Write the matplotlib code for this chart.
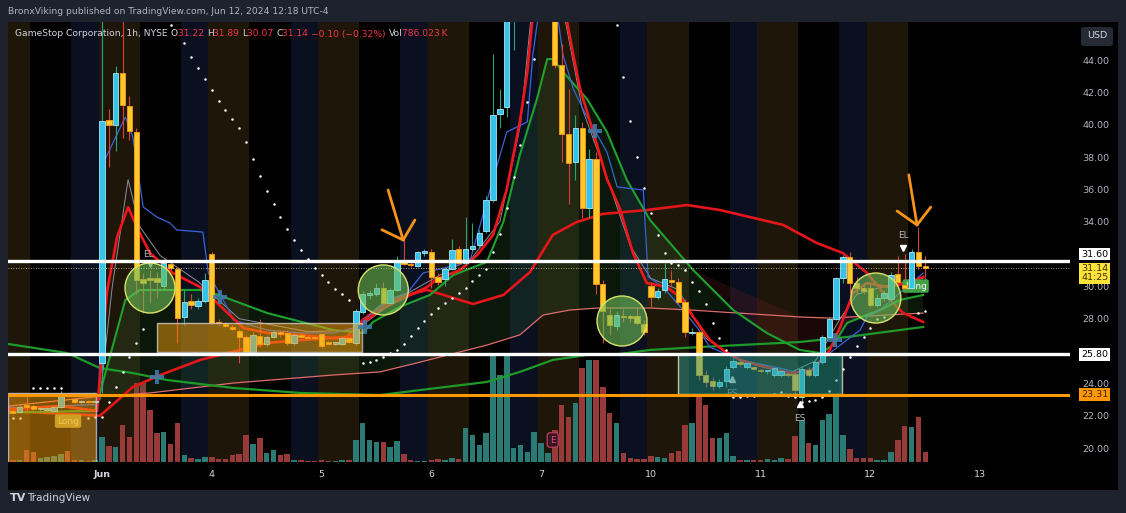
import numpy as np
import matplotlib.pyplot as plt
from matplotlib.patches import Rectangle, Ellipse, FancyBboxPatch

# 1h bars, 16 per day (04:00-20:00). bar 0 = Jun 3 04:00, bar -13 = May 31 07:00
first_bar = -13
opens = [22.25, 22.25, 22.60, 22.60, 22.40, 22.38, 22.30, 22.55, 23.30, 23.05, 22.85, 22.90, 22.85,
         25.26, 40.30, 40.00, 43.20, 41.15, 39.55, 30.45, 30.50, 30.50, 30.00, 31.40, 31.10, 28.10, 29.10, 28.80, 29.10,
         32.00, 27.80, 27.70, 27.50, 27.25, 26.90, 25.95, 26.95, 26.45, 26.90, 27.15, 27.10, 26.50, 26.95, 26.90, 26.80,
         27.05, 26.50, 26.45, 26.45, 26.80, 26.50, 28.40, 29.45, 29.55, 29.90, 29.00, 29.80, 31.45, 31.40, 31.25, 32.05,
         32.10, 30.60, 30.45, 31.10, 32.30, 31.45, 32.30, 32.55, 33.40, 35.35, 40.65, 41.10, 48.00, 50.00, 51.00, 49.00,
         47.00, 47.00, 47.50, 43.70, 39.40, 37.70, 39.80, 34.85, 37.90, 30.15, 28.20, 27.55, 28.15, 28.10, 28.15, 27.70,
         30.00, 29.35, 29.80, 30.40, 30.30, 29.05, 27.10, 27.20, 24.50, 24.15, 23.85, 24.15, 25.00, 25.30, 25.00, 25.00,
         24.85, 24.75, 24.50, 24.50, 24.60, 24.60, 23.15, 24.85, 24.50, 25.30, 26.90, 28.00, 30.50, 31.80, 30.20, 29.90,
         29.90, 28.85, 29.30, 29.20, 30.75, 30.10, 29.90, 32.10, 31.22]
highs = [22.40, 22.70, 23.40, 22.70, 22.50, 22.55, 22.60, 23.50, 23.40, 23.15, 22.95, 23.00, 22.95,
         48.00, 41.00, 43.60, 48.00, 41.80, 39.80, 30.80, 31.00, 30.90, 31.70, 31.50, 31.20, 29.80, 29.50, 29.30, 30.80,
         32.10, 28.00, 27.80, 27.60, 27.35, 27.00, 27.20, 28.00, 27.00, 27.30, 27.30, 27.30, 27.10, 27.10, 26.95, 26.90,
         27.10, 26.60, 26.55, 26.90, 26.85, 28.60, 29.70, 29.80, 30.20, 30.30, 29.90, 31.85, 32.90, 31.50, 32.20, 32.30,
         32.30, 30.80, 31.20, 32.90, 32.50, 34.30, 33.90, 33.50, 35.60, 44.40, 42.20, 50.00, 55.00, 55.00, 55.00, 54.00,
         52.00, 50.00, 48.00, 45.00, 42.20, 40.60, 40.17, 38.50, 38.30, 30.40, 28.70, 28.50, 28.60, 28.30, 28.70, 27.90,
         30.30, 29.90, 31.45, 31.00, 30.50, 29.20, 27.40, 27.30, 24.80, 24.40, 24.30, 25.10, 25.60, 25.50, 25.30, 25.10,
         24.90, 24.85, 25.00, 24.80, 24.70, 24.70, 25.00, 25.00, 25.50, 27.00, 28.10, 30.60, 31.95, 32.10, 30.60, 30.20,
         30.20, 29.50, 29.80, 30.90, 31.90, 32.00, 32.30, 33.70, 31.89]
lows = [22.10, 22.20, 22.20, 22.35, 22.30, 22.30, 22.25, 22.50, 23.15, 22.80, 22.75, 22.80, 22.80,
        23.40, 37.40, 38.40, 39.20, 39.05, 29.50, 28.35, 29.00, 29.30, 29.80, 31.00, 26.50, 27.60, 28.60, 28.60, 29.00,
        27.70, 27.60, 27.50, 27.30, 25.25, 25.90, 25.90, 26.25, 26.30, 26.80, 26.90, 26.40, 26.40, 26.85, 26.75, 26.70,
        26.20, 26.40, 26.40, 26.40, 26.50, 26.40, 28.30, 29.20, 29.40, 28.90, 28.90, 29.70, 31.30, 31.20, 31.20, 31.90,
        29.90, 30.10, 30.00, 31.00, 31.30, 31.30, 32.20, 32.40, 33.30, 35.20, 39.80, 40.50, 44.60, 47.00, 47.00, 47.50,
        46.80, 46.50, 43.50, 37.70, 35.10, 36.60, 34.20, 34.20, 29.50, 26.50, 27.00, 27.30, 27.80, 27.80, 27.60, 27.00,
        28.70, 29.20, 29.60, 30.00, 28.90, 26.90, 27.00, 24.20, 23.80, 23.60, 23.70, 23.80, 24.90, 25.10, 24.90, 24.80,
        24.70, 24.60, 24.40, 24.40, 24.40, 23.30, 22.90, 24.40, 24.40, 25.20, 26.80, 27.90, 30.20, 29.60, 29.50, 29.50,
        28.70, 28.70, 29.10, 29.10, 30.10, 29.70, 29.80, 31.10, 30.07]
closes = [22.20, 22.55, 22.55, 22.40, 22.42, 22.42, 22.55, 23.30, 23.20, 22.85, 22.90, 22.85, 22.90,
          40.20, 40.00, 43.20, 41.20, 39.60, 30.40, 30.20, 30.40, 30.30, 31.45, 31.15, 28.05, 29.05, 28.85, 29.10, 30.40,
          27.75, 27.72, 27.55, 27.35, 26.90, 25.95, 27.00, 26.45, 26.90, 27.20, 27.05, 26.50, 27.00, 26.90, 26.80, 26.78,
          26.30, 26.45, 26.50, 26.80, 26.55, 28.50, 29.50, 29.60, 29.90, 29.00, 29.80, 31.50, 31.40, 31.30, 32.10, 32.20,
          30.60, 30.30, 31.05, 32.25, 31.45, 32.30, 32.50, 33.30, 35.35, 40.60, 40.95, 48.00, 52.00, 51.00, 53.00, 50.00,
          48.50, 47.80, 43.70, 39.40, 37.60, 39.80, 34.85, 37.90, 30.15, 28.50, 27.60, 28.20, 28.10, 28.05, 27.75, 27.20,
          29.35, 29.70, 30.45, 30.30, 29.05, 27.20, 27.20, 24.50, 24.10, 23.85, 24.10, 24.90, 25.40, 25.20, 25.25, 24.90,
          24.75, 24.78, 24.95, 24.75, 24.50, 23.60, 24.90, 24.50, 25.30, 26.90, 28.00, 30.50, 31.80, 30.20, 29.90, 29.70,
          28.85, 29.30, 29.60, 30.70, 30.25, 29.90, 32.10, 31.25, 31.14]
volume = [2, 2, 12, 10, 4, 5, 6, 8, 11, 2, 2, 1, 2,
          25, 16, 15, 37, 25, 79, 79, 52, 29, 30, 18, 39, 7, 4, 3, 5,
          5, 3, 3, 7, 8, 27, 18, 24, 9, 12, 7, 8, 2, 2, 1, 1,
          2, 1, 1, 2, 2, 22, 39, 22, 20, 20, 15, 21, 8, 2, 1, 1,
          2, 3, 2, 4, 3, 34, 27, 17, 29, 107, 87, 107, 14, 17, 10, 30,
          19, 9, 32, 57, 45, 59, 94, 102, 102, 75, 49, 39, 9, 4, 3, 3,
          6, 5, 4, 9, 11, 37, 39, 67, 57, 24, 24, 29, 6, 2, 2, 2,
          2, 3, 2, 4, 3, 26, 42, 19, 17, 42, 48, 68, 27, 13, 4, 4,
          4, 2, 2, 10, 22, 36, 35, 45, 10]

day_ticks = [0, 16, 32, 48, 64, 80, 96, 112, 128]
day_labels = ["Jun", "4", "5", "6", "7", "10", "11", "12", "13"]
price_ticks = [20, 22, 24, 26, 28, 30, 34, 36, 38, 40, 42, 44]   # 32.00 sits under the 31.60 tag

# moving averages (bar, price)
red_fast_x = [-13.7, -6, -0.7, 0.7, 2.2, 3.8, 5.5, 7, 10.3, 14.3, 16.8, 20.6, 24.1, 28.9, 33.7, 36.2, 38, 40.5,
              43.4, 47.4, 48.8, 52.2, 54.7, 57, 59, 60.9, 62, 62.7, 64.5, 66.5, 67.8, 68.7, 69.7, 71.6, 73.6,
              75.5, 77.4, 79.4, 82.3, 84.3, 86.2, 88.6, 90.5, 93, 96.9, 100.3, 103.6, 106.1, 107.6, 109.5,
              111.5, 114.4, 117.3, 119.7]
red_fast_y = [22.4, 22.6, 22.3, 29.6, 33.05, 34.9, 33.3, 32.06, 30.83, 29.96, 28.97, 27.43, 27.12, 27.0, 26.8,
              26.8, 27.74, 28.54, 29.16, 29.96, 30.46, 31.0, 31.94, 33.18, 36.0, 40.17, 43.26, 46.35, 50.0, 48.5,
              46.35, 44.3, 42.2, 39.55, 36.64, 34.8, 32.06, 30.21, 29.96, 29.34, 28.11, 26.68, 26.07, 25.45, 25.0,
              24.64, 24.83, 26.07, 27.49, 29.59, 30.21, 29.96, 30.21, 30.58]
red_slow_x = [-13.7, -0.3, 4.5, 8.5, 14.3, 24.1, 28.9, 35.7, 38, 40.5, 43.4, 47.4, 54.1, 58.5, 62.4, 65.7, 69.2,
              73, 79.4, 85.3, 90.1, 99.3, 104.2, 108, 111.5, 114.4, 116.8, 119.7]
red_slow_y = [22.3, 22.0, 23.78, 24.52, 25.45, 26.5, 26.68, 26.87, 27.92, 28.73, 29.34, 29.78, 28.91, 29.47,
              30.89, 33.18, 33.98, 34.48, 34.72, 35.03, 34.72, 33.8, 32.68, 32.06, 30.83, 29.34, 28.35, 27.8]
green_mid_x = [-13.7, -1, -0.3, 3.4, 5.5, 14.3, 16.2, 24.1, 33.7, 38, 39.5, 43.4, 47.8, 51.2, 56.1, 58.5, 60.9,
               63.4, 64.9, 65.7, 67.2, 70.7, 73.6, 76.5, 79.9, 86.2, 92, 96.9, 101.7, 104.7, 106.6, 108.6,
               111.5, 113.4, 116.3, 119.7]
green_mid_y = [22.2, 22.3, 23.4, 29.16, 29.78, 29.78, 29.59, 28.35, 27.3, 27.12, 27.8, 28.73, 29.47, 30.7,
               31.51, 33.98, 38.12, 41.59, 44.06, 44.06, 43.26, 41.59, 39.55, 36.58, 34.1, 31.0, 28.54, 27.12,
               26.07, 25.88, 26.37, 27.74, 28.23, 28.54, 29.16, 29.47]
green_slow_x = [-13.7, -5.1, -0.3, 4.5, 9.5, 19.1, 28.9, 40.5, 46.4, 56.1, 60.9, 65.7, 70.7, 75.5, 79.9, 87.2,
                101.7, 108.6, 119.7]
green_slow_y = [26.44, 25.88, 24.95, 24.64, 24.21, 23.72, 23.41, 23.28, 23.59, 24.09, 24.71, 25.45, 25.76,
                25.82, 26.07, 26.25, 26.56, 26.87, 27.49]
pink_x = [-13.7, -0.3, 7, 19.1, 33.7, 40.5, 46.4, 56.1, 60.9, 64.3, 68.2, 72.2, 79.9, 85.7, 101.7, 106.1, 119.7]
pink_y = [22.6, 23.2, 23.41, 24.02, 24.52, 24.71, 25.32, 26.37, 27.0, 28.23, 28.54, 28.66, 28.66, 28.54,
          28.11, 28.04, 28.35]
blue_x = [-13.7, -0.5, 0.4, 3.4, 4.5, 6, 8, 9.9, 10.9, 14.7, 15.5, 18.7, 19.1, 24.1, 28.9, 33.7, 37.2, 41.5,
          44.5, 46.8, 49.3, 53.6, 57, 59, 62, 62.8, 64, 66, 67.2, 68.7, 70.1, 73.6, 75.1, 78.9, 79.6, 81.8,
          84.3, 86.7, 88.6, 93, 98.8, 101.7, 102.8, 106.1, 107.6, 110.5, 111.5, 113.4, 119.7]
blue_y = [22.5, 22.7, 37.82, 40.47, 39.24, 34.91, 34.29, 33.92, 33.49, 33.36, 30.83, 28.35, 27.92, 27.3, 27.12,
          27.12, 27.49, 29.16, 29.59, 30.83, 31.08, 31.51, 36.64, 39.55, 40.17, 44.31, 48.0, 48.0, 44.31, 42.21,
          40.97, 38.31, 36.15, 35.96, 30.58, 29.96, 28.73, 27.49, 26.25, 25.45, 24.95, 24.64, 24.64, 25.88,
          26.37, 27.3, 28.11, 28.54, 30.83]
gray_x = [-0.3, 1.5, 3.8, 5.5, 8.5, 14, 20, 30, 37, 43, 48, 54, 58, 61, 62.5, 67.5, 70, 73, 77, 80, 84, 88, 93,
          100, 104, 107.6, 110, 114, 119.7]
gray_y = [23.0, 30.0, 36.6, 33.7, 31.9, 30.3, 28.0, 27.2, 27.3, 29.2, 30.4, 31.8, 34.0, 40.0, 46.5, 46.5, 41.0,
          37.5, 32.5, 30.5, 29.8, 26.8, 25.4, 24.6, 25.4, 28.0, 29.5, 30.0, 30.5]

# parabolic SAR dots
sar_x = [-13, -12, -10, -9, -8, -7, -6, -2, -1, 0, 1, 2, 3, 4, 5, 6,
         10, 12, 13, 14, 15, 16, 17, 18, 19, 20, 21, 22, 23, 24, 25, 26, 27, 28, 29, 30, 31, 32, 33, 34, 35, 36,
         38, 39, 40, 41, 42, 43, 44, 45, 46, 47, 48, 49, 50, 51, 52, 53, 54, 55, 56, 57, 58, 59, 60, 61, 62, 63,
         75, 76, 77, 78, 79, 80, 81, 82, 83, 84, 85, 86, 87, 88, 89, 90, 91,
         92, 93, 94, 95, 96, 97, 98, 99, 100, 101, 102, 103, 104, 105, 106, 107, 108, 109, 110, 111, 112, 113, 114,
         119, 120]
sar_y = [21.86, 21.86, 23.72, 23.72, 23.72, 23.72, 23.72, 21.86, 21.92, 21.92, 22.85, 23.78, 24.71, 25.63, 26.5, 27.36,
         46.16, 45.05, 44.19, 43.5, 42.82, 42.14, 41.46, 40.91, 40.35, 39.8, 38.93, 37.88, 36.83, 35.9, 35.1,
         34.29, 33.55, 32.87, 32.25, 31.69, 31.14, 30.7, 30.27, 29.84, 29.53, 29.16,
         25.26, 25.32, 25.45, 25.63, 25.88, 26.07, 26.44, 26.93, 27.43, 27.86, 28.29, 28.66, 28.97, 29.28, 29.59,
         29.9, 30.33, 30.7, 31.08, 32.13, 33.24, 34.85, 36.76, 38.74, 41.4, 44.06,
         46.16, 42.95, 40.23, 38.0, 36.08, 34.54, 33.18, 32.06, 31.45, 31.3, 31.01, 30.27, 29.71, 28.91, 27.74,
         26.81, 26.07,
         23.16, 23.16, 23.2, 23.22, 23.3, 23.3, 23.35, 23.47, 23.2, 23.16, 22.85, 22.91, 22.97, 23.16, 23.53, 24.2,
         24.89, 25.63, 26.31, 26.87, 27.43, 27.98, 28.1,
         28.35, 28.48]

# drawings on the chart
white_levels = [31.60, 25.80]
orange_level = 23.31
last_price = 31.14
boxes = [(-13.7, -0.9, 19.0, 23.41, '#f59e0b'), (8.0, 37.9, 25.94, 27.74, '#f59e0b'),
         (84.0, 107.9, 23.35, 25.82, '#2a9d8f')]
circle_x = [7.0, 41.0, 75.8, 112.8]
circle_y = [29.9, 29.78, 27.86, 29.28]
cross_x = [8.0, 17.2, 38.3, 71.9, 106.8]
cross_y = [24.4, 29.34, 27.49, 39.6, 26.68]
arrow_tips = [(43.9, 32.87), (118.8, 33.8)]
arrow_tails = [(41.7, 35.96), (117.6, 36.9)]
arrow_wings = [[(40.8, 33.5), (45.6, 34.1)], [(115.9, 34.66), (120.8, 34.9)]]

W, H = 1126, 513


def frect(l, t, r, b):
    return [l / W, 1 - b / H, (r - l) / W, (b - t) / H]


fig = plt.figure(figsize=(W / 100, H / 100), dpi=100, facecolor='#1e222d')
fig.patches.append(Rectangle((8 / W, 1 - 490 / H), 1110 / W, 468 / H, transform=fig.transFigure,
                             facecolor='black', edgecolor='none', zorder=-10))

ax_vol = fig.add_axes(frect(8, 22, 1070, 462), zorder=0)
ax = fig.add_axes(frect(8, 22, 1070, 462), zorder=1, sharex=ax_vol)
ax_vol.set_facecolor('black')
ax.set_facecolor('none')
ax.set_xlim(-13.7, 141.1)
ax.set_ylim(19.14, 46.35)
ax_vol.set_ylim(0, 440)
for a in (ax, ax_vol):
    for s in a.spines.values():
        s.set_visible(False)
ax_vol.tick_params(left=False, labelleft=False, bottom=False, labelbottom=False)

x = np.arange(first_bar, first_bar + len(opens))
o = np.array(opens); h = np.array(highs); l = np.array(lows); c = np.array(closes)
up = c >= o

# session shading: premarket (orange) and after hours (blue)
for s in range(-16, 121, 16):
    ax_vol.axvspan(s - 0.5, min(s + 5.5, 120.5), color='#1f160a', lw=0, zorder=0)
    if s + 11.5 < 120.5:
        ax_vol.axvspan(s + 11.5, s + 15.5, color='#0b1020', lw=0, zorder=0)

# volume
ax_vol.bar(x, volume, width=0.8, color=np.where(up, '#2b7a74', '#963a3a'), zorder=2)


# clouds between MAs
def cloud(lo, hi, color):
    top = [(a, b) for a, b in zip(green_mid_x, green_mid_y) if lo <= a <= hi]
    bot = [(a, b) for a, b in zip(pink_x, pink_y) if lo <= a <= hi][::-1]
    pts = np.array(top + bot)
    ax.fill(pts[:, 0], pts[:, 1], color=color, alpha=0.22, lw=0, zorder=1)


cloud(-1, 92, '#2e6b2e')
cloud(86, 112, '#7a2020')
cloud(111, 120, '#2e6b2e')

# moving averages
ax.plot(pink_x, pink_y, color='#e06c6c', lw=0.9, zorder=2)
ax.plot(green_slow_x, green_slow_y, color='#1e9a2a', lw=1.6, zorder=2)
ax.plot(gray_x, gray_y, color='#8b8f99', lw=0.7, zorder=2)
ax.plot(red_slow_x, red_slow_y, color='#e3161b', lw=1.9, zorder=2)
ax.plot(green_mid_x, green_mid_y, color='#1fa12e', lw=1.5, zorder=2)
ax.plot(blue_x, blue_y, color='#3a63d6', lw=0.9, zorder=2)
ax.plot(red_fast_x, red_fast_y, color='#f0161b', lw=1.9, zorder=2)

# candles
body_lo = np.minimum(o, c)
body_h = np.maximum(np.abs(c - o), 0.09)
ax.vlines(x, l, h, colors=np.where(up, '#2aa37a', '#d8403a'), lw=0.8, zorder=3)
ax.bar(x, body_h, bottom=body_lo, width=0.78, color=np.where(up, '#35c3e8', '#ffc92e'),
       edgecolor=np.where(up, '#a9e6f6', '#ff9a10'), linewidth=0.6, zorder=3.2)

# SAR
ax.plot(sar_x, sar_y, 'o', color='white', ms=1.8, mew=0, zorder=4)

# boxes and circles
for x0, x1, y0, y1, col in boxes:
    ax.add_patch(Rectangle((x0, y0), x1 - x0, y1 - y0, facecolor=col, alpha=0.5,
                           edgecolor='none', zorder=5))
    ax.add_patch(Rectangle((x0, y0), x1 - x0, y1 - y0, facecolor='none',
                           edgecolor='#e6e2b0' if col != '#f59e0b' else '#c9c9c9', lw=1.0, alpha=0.8, zorder=5))
for cx, cy in zip(circle_x, circle_y):
    ax.add_patch(Ellipse((cx, cy), 50 / 6.86, 50 / 16.17, facecolor='#6fbf5a', alpha=0.6,
                         edgecolor='none', zorder=5))
    ax.add_patch(Ellipse((cx, cy), 50 / 6.86, 50 / 16.17, facecolor='none', edgecolor='#d9e36a',
                         lw=1.0, zorder=5))

# level lines
for lv in white_levels:
    ax.axhline(lv, color='white', lw=2.4, zorder=6)
ax.axhline(orange_level, color='#ff9800', lw=2.2, zorder=6)
ax.axhline(last_price, color='#d8d39a', lw=0.6, ls=(0, (1, 2)), zorder=6)

# crosses, signals, arrows
ax.plot(cross_x, cross_y, 'P', color='#3f7fb0', ms=10, mew=0, alpha=0.85, zorder=6)
ax.plot([7.0], [31.38], 'v', color='white', ms=5, alpha=0.6, zorder=4)
ax.text(6.8, 32.0, 'EL', color='#b2b5be', fontsize=6.5, ha='center', va='center', zorder=7)
ax.plot([116.8], [32.37], 'v', color='white', ms=5, zorder=7)
ax.text(116.8, 33.12, 'EL', color='#b2b5be', fontsize=6.5, ha='center', va='center', zorder=7)
ax.plot([91.8], [24.27], '^', color='white', ms=5, alpha=0.7, zorder=4)
ax.text(91.8, 23.4, 'ES', color='#8a8d95', fontsize=6.5, ha='center', va='center', zorder=4)
ax.plot([101.7], [22.73], '^', color='white', ms=5, zorder=7)
ax.text(101.7, 21.8, 'ES', color='#b2b5be', fontsize=6.5, ha='center', va='center', zorder=7)
ax.text(-4.95, 21.67, 'Long', color='#ecebb0', fontsize=6.5, ha='center', va='center', zorder=4.5,
        bbox=dict(boxstyle='round,pad=0.25', fc='#a8a23a', ec='none'))
ax.text(118.6, 30.02, 'Long', color='white', fontsize=6.5, ha='center', va='center', zorder=3.1,
        bbox=dict(boxstyle='round,pad=0.25', fc='#43a047', ec='none'))
ax.text(65.7, 20.5, 'E', color='#e0527a', fontsize=6.5, ha='center', va='center', zorder=7,
        bbox=dict(boxstyle='round,pad=0.3', fc='#3a1320', ec='#c8406a', lw=0.8))
for tip, tail, wings in zip(arrow_tips, arrow_tails, arrow_wings):
    ax.plot([tail[0], tip[0]], [tail[1], tip[1]], color='#f7931a', lw=2, solid_capstyle='round', zorder=8)
    for w in wings:
        ax.plot([w[0], tip[0]], [w[1], tip[1]], color='#f7931a', lw=2, solid_capstyle='round', zorder=8)

# axes
ax.yaxis.tick_right()
ax.set_yticks(price_ticks, [f'{p:.2f}' for p in price_ticks])
ax.tick_params(axis='y', length=0, pad=9, labelsize=6.8, labelcolor='#b2b5be')
ax.set_xticks(day_ticks, day_labels)
ax.tick_params(axis='x', length=0, pad=6, labelsize=6.8, labelcolor='#d1d4dc')
ax.get_xticklabels()[0].set_fontweight('bold')

# price tags on the axis (TradingView nudges the 31.60 tag up to make room)
ytr = ax.get_yaxis_transform()
for val, txt, fc, tc in [(32.0, '31.60', 'white', 'black'), (25.80, '25.80', 'white', 'black'),
                         (23.31, '23.31', '#ff9800', '#3a2200')]:
    ax.text(1.0105, val, txt, transform=ytr, fontsize=6.8, color=tc, va='center', ha='left', zorder=9,
            clip_on=False, bbox=dict(boxstyle='square,pad=0.2', fc=fc, ec='none'))
ax.text(1.0105, 30.8, '31.14\n41:25', transform=ytr, fontsize=6.8, color='#3a3000', va='center', ha='left',
        linespacing=1.0, zorder=9, clip_on=False, bbox=dict(boxstyle='square,pad=0.2', fc='#fde23a', ec='none'))

fig.patches.append(FancyBboxPatch((1081 / W, 1 - 46 / H), 32 / W, 19 / H,
                                  boxstyle='round,pad=0,rounding_size=0.004',
                                  transform=fig.transFigure, fc='#262a35', ec='none', zorder=5))
fig.text(1097 / W, 1 - 36 / H, 'USD', color='#d1d4dc', fontsize=6.8, ha='center', va='center', zorder=6)

# header
fig.text(8 / W, 1 - 12 / H, 'BronxViking published on TradingView.com, Jun 12, 2024 12:18 UTC-4',
         color='#b2b5be', fontsize=6.6, va='center')
light, red = '#d1d4dc', '#f23645'
pieces = [('GameStop Corporation, 1h, NYSE ', light), ('O', light), ('31.22 ', red), ('H', light),
          ('31.89 ', red), ('L', light), ('30.07 ', red), ('C', light), ('31.14 ', red),
          ('\u22120.10 (\u22120.32%) ', red), ('Vol', light), ('786.023\u2009K', red)]
t = fig.text(15 / W, 1 - 34 / H, pieces[0][0], color=pieces[0][1], fontsize=6.6, va='center', zorder=10)
for s, col in pieces[1:]:
    t = ax.annotate(s, xy=(1, 0.5), xycoords=t, va='center', ha='left', color=col, fontsize=6.6,
                    annotation_clip=False, zorder=10)

# footer
fig.text(10 / W, 1 - 498 / H, 'TV', color='#d1d4dc', fontsize=8, fontweight='bold', va='center')
fig.text(27 / W, 1 - 498 / H, 'TradingView', color='#d1d4dc', fontsize=7.5, va='center')

fig.savefig('out.png', dpi=100, facecolor=fig.get_facecolor())
